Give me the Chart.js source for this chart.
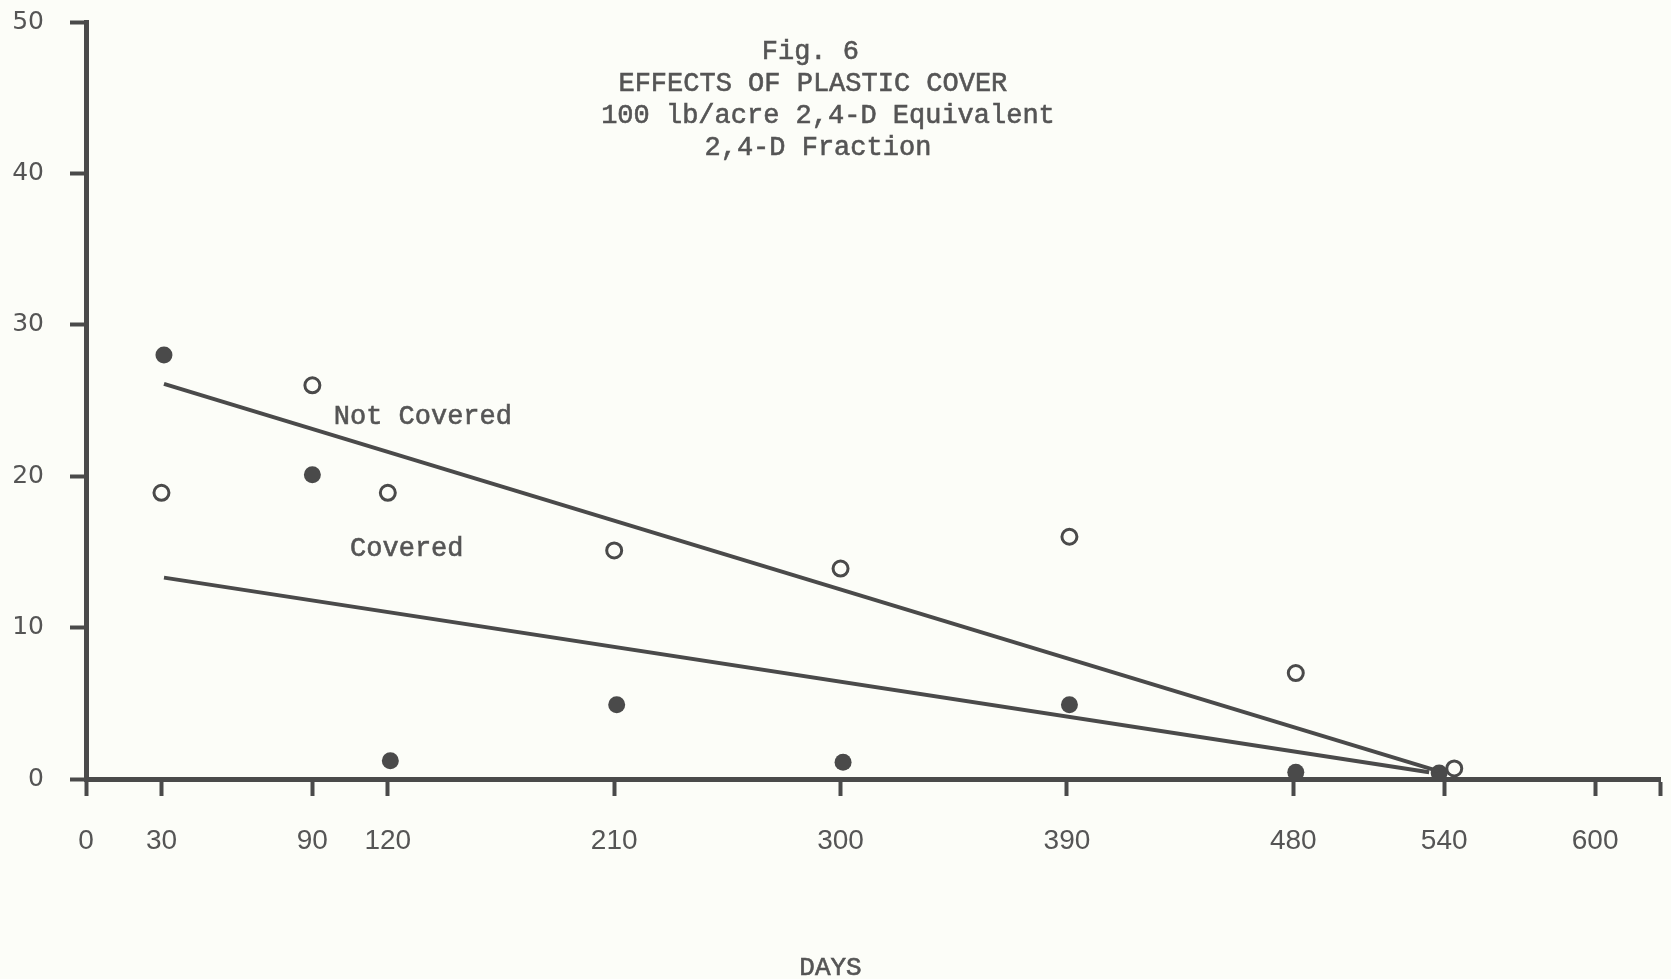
<!DOCTYPE html>
<html>
<head>
<meta charset="utf-8">
<title>Fig. 6 - Effects of plastic cover</title>
<script src="https://cdn.jsdelivr.net/npm/chart.js@4/dist/chart.umd.min.js"></script>
<style>
  html, body { margin: 0; padding: 0; background: #fcfdf8; }
  #wrap { width: 1671px; height: 979px; position: relative; }
</style>
</head>
<body>
<div id="wrap"><canvas id="fig6"></canvas></div>
<script>
// ── Data ───────────────────────────────────────────────────
const coveredDays      = [31, 90, 121, 211, 301, 391, 481, 538];
const coveredValues    = [28.0, 20.1, 1.2, 4.9, 1.1, 4.9, 0.45, 0.4];
const notCoveredDays   = [30, 90, 120, 210, 300, 391, 481, 544];
const notCoveredValues = [18.9, 26.0, 18.9, 15.1, 13.9, 16.0, 7.0, 0.7];

// fitted lines, start / end
const coveredFitDays      = [31, 534];
const coveredFitValues    = [13.3, 0.45];
const notCoveredFitDays   = [31, 538];
const notCoveredFitValues = [26.1, 0.5];

const xTickValues = [0, 30, 90, 120, 210, 300, 390, 480, 540, 600, 626];
const xTickLabels = ['0', '30', '90', '120', '210', '300', '390', '480', '540', '600', ''];
const yTickValues = [0, 10, 20, 30, 40, 50];

const titleLines = [
  'Fig. 6',
  'EFFECTS OF PLASTIC COVER',
  '100 lb/acre 2,4-D Equivalent',
  '2,4-D Fraction'
];

// ── Styles ─────────────────────────────────────────────────
const INK      = '#4a4a4a';
const TEXT     = '#555555';
const MONO     = '"Liberation Mono", "Courier New", monospace';

const pairs = (xs, ys) => xs.map((d, i) => ({ x: d, y: ys[i] }));

// typewriter text: fill plus a thin stroke for the heavier strike
function typed(ctx, text, px, py) {
  ctx.fillText(text, px, py);
  ctx.strokeText(text, px, py);
}

// typed labels drawn in data space
const notesPlugin = {
  id: 'notes',
  afterDatasetsDraw(chart) {
    const { ctx, scales: { x, y }, chartArea } = chart;
    ctx.save();
    ctx.fillStyle    = TEXT;
    ctx.strokeStyle  = TEXT;
    ctx.lineWidth    = 0.6;
    ctx.font         = '27px ' + MONO;
    ctx.textBaseline = 'middle';

    // title block
    ctx.textAlign = 'center';
    const titleX = [288, 289, 295, 291];
    const top    = y.getPixelForValue(48);
    titleLines.forEach((t, i) => typed(ctx, t, x.getPixelForValue(titleX[i]), top + i * 32));

    // line labels
    ctx.textAlign = 'left';
    typed(ctx, 'Not Covered', x.getPixelForValue(98.5), y.getPixelForValue(23.9));
    typed(ctx, 'Covered',     x.getPixelForValue(105),  y.getPixelForValue(15.2));

    // axis caption
    ctx.font      = '26px ' + MONO;
    ctx.textAlign = 'center';
    typed(ctx, 'DAYS', x.getPixelForValue(296), chartArea.bottom + 189);
    ctx.restore();
  }
};

// ── Chart ──────────────────────────────────────────────────
const ctx = document.getElementById('fig6').getContext('2d');
new Chart(ctx, {
  type: 'scatter',
  data: {
    datasets: [
      {
        type: 'line',
        data: pairs(notCoveredFitDays, notCoveredFitValues),
        borderColor: INK, borderWidth: 4, pointRadius: 0, fill: false
      },
      {
        type: 'line',
        data: pairs(coveredFitDays, coveredFitValues),
        borderColor: INK, borderWidth: 4, pointRadius: 0, fill: false
      },
      {
        label: 'Covered',
        data: pairs(coveredDays, coveredValues),
        pointStyle: 'circle', pointRadius: 8.5,
        backgroundColor: INK, borderColor: INK, borderWidth: 0
      },
      {
        label: 'Not Covered',
        data: pairs(notCoveredDays, notCoveredValues),
        pointStyle: 'circle', pointRadius: 7.5,
        backgroundColor: 'rgba(0,0,0,0)', borderColor: INK, borderWidth: 3
      }
    ]
  },
  options: {
    responsive: true,
    maintainAspectRatio: false,
    animation: false,
    layout: { padding: { top: 22, right: 2, left: 0, bottom: 0 } },
    plugins: {
      legend:  { display: false },
      tooltip: { enabled: false }
    },
    scales: {
      x: {
        type: 'linear', min: 0, max: 626,
        afterFit: s => { s.height = 200; s.paddingLeft = 0; s.paddingRight = 0; },
        afterBuildTicks: s => { s.ticks = xTickValues.map(v => ({ value: v })); },
        grid:   { drawOnChartArea: false, drawTicks: true, tickLength: 17, tickWidth: 4, tickColor: INK },
        border: { display: true, width: 5, color: INK },
        ticks: {
          padding: 28,
          color: TEXT,
          font: { family: '"Liberation Sans", Arial, sans-serif', size: 28 },
          maxRotation: 0,
          autoSkip: false,
          callback: (v) => xTickLabels[xTickValues.indexOf(v)]
        }
      },
      y: {
        type: 'linear', min: 0, max: 50,
        afterFit: s => { s.width = 86; s.paddingTop = 0; s.paddingBottom = 0; },
        afterBuildTicks: s => { s.ticks = yTickValues.map(v => ({ value: v })); },
        grid:   { drawOnChartArea: false, drawTicks: true, tickLength: 16, tickWidth: 4, tickColor: INK },
        border: { display: true, width: 5, color: INK },
        ticks: {
          padding: 26,
          color: TEXT,
          font: { family: '"DejaVu Sans", sans-serif', size: 25 }
        }
      }
    }
  },
  plugins: [notesPlugin]
});
</script>
</body>
</html>
